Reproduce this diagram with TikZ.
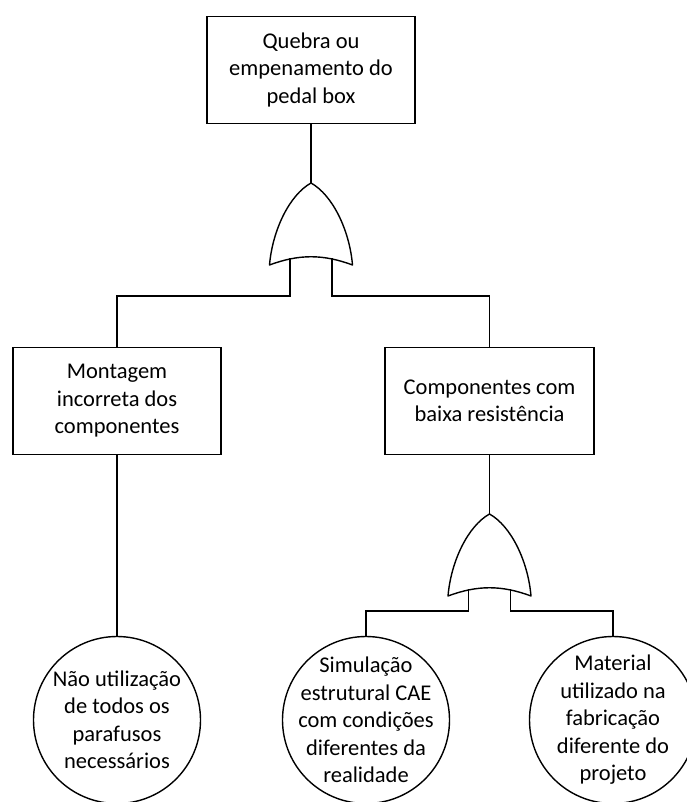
\documentclass[tikz,border=0pt]{standalone}
\usepackage{fontspec}
\setmainfont{Carlito}
\begin{document}
\begin{tikzpicture}[x=1pt,y=-1pt,
  line width=1.4pt,
  txt/.style={font=\fontsize{22.5}{27.5}\selectfont, align=center, inner sep=0pt},
  event/.style={txt, draw, rectangle, minimum width=#1, minimum height=107},
  event/.default=208,
  basic/.style={draw, circle, minimum size=167, inner sep=0pt},
  orgate/.pic={
    \draw[line join=round] (-41.5,82) .. controls (-38.5,47) and (-21.5,12) .. (0,0)
      .. controls (21.5,12) and (38.5,47) .. (41.5,82)
      .. controls (12,71) and (-12,71) .. (-41.5,82) -- cycle;
    \coordinate (-top) at (0,0);
    \coordinate (-inl) at (-21,75);
    \coordinate (-inr) at (21,75);
  }]
\useasboundingbox (0,0) rectangle (687,802);

% top event and intermediate events
\node[event] (top) at (311,70) {Quebra ou\\empenamento do\\pedal box};
\node[event] (mont) at (117,401) {Montagem\\incorreta dos\\componentes};
\node[event=209] (comp) at (489.5,401) {Componentes com\\baixa resistência};

% OR gates
\pic (g1) at (311,183) {orgate};
\pic (g2) at (489.5,514) {orgate};

% basic events
\node[basic] (nao) at (117,720) {};
\node[txt] (nao-t) at (nao) {Não utilização\\de todos os\\parafusos\\necessários};
\node[basic] (sim) at (366,720) {};
\node[txt] (sim-t) at (sim) {Simulação\\estrutural CAE\\com condições\\diferentes da\\realidade};
\node[basic] (mat) at (613,720) {};
\node[txt] (mat-t) at (mat) {Material\\utilizado na\\fabricação\\diferente do\\projeto};

% connectors
\draw (top.south) -- (g1-top);
\draw (g1-inl) -- ++(0,38) -| (mont.north);
\draw (g1-inr) -- ++(0,38) -| (comp.north);
\draw (mont.south) -- (nao.north);
\draw (comp.south) -- (g2-top);
\draw (g2-inl) -- ++(0,22) -| (sim.north);
\draw (g2-inr) -- ++(0,22) -| (mat.north);
\end{tikzpicture}
\end{document}
